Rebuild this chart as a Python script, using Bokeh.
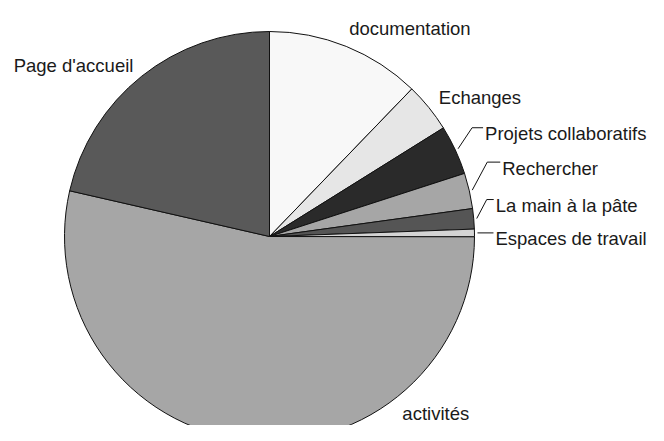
import math
from bokeh.plotting import figure
from bokeh.models import Range1d, ColumnDataSource
from bokeh.embed import file_html
from bokeh.resources import INLINE
from bokeh.core.properties import value

# ---- data ----
categories = ["documentation", "Echanges", "Projets collaboratifs", "Rechercher",
              "La main à la pâte", "Espaces de travail", "activités", "Page d'accueil"]
shares = [12.2, 3.9, 3.9, 2.8, 1.6, 0.6, 53.5, 21.4]

# ---- style ----
colors = ["#f8f8f8", "#e6e6e6", "#2a2a2a", "#a6a6a6", "#555555", "#d4d4d4", "#a6a6a6", "#595959"]
# label layout in screen pixels (dx right, dy down): (kind, dx, dy, align, horizontal segment)
layout = [
    ("plain", 3, -18, "left", 0),
    ("plain", 10, -10, "left", 0),
    ("leader", 14, -21, "left", 11),
    ("leader", 15, -28, "left", 13),
    ("leader", 10, -19, "left", 7),
    ("leader", 0, 0, "left", 16),
    ("plain", 156, -27, "left", 0),
    ("plain", -8.3, -10.7, "right", 0),
]

W, H = 648, 425
p = figure(width=W, height=H, x_range=Range1d(0, W), y_range=Range1d(0, H),
           output_backend="svg", toolbar_location=None, min_border=0,
           x_axis_type=None, y_axis_type=None)
p.grid.visible = False
p.outline_line_color = None
p.background_fill_color = "white"
p.border_fill_color = "white"

cx, cy, R = 269, 189, 205
total = sum(shares)
starts, ends = [], []
acc = 0.0
for v in shares:
    starts.append(math.pi / 2 - 2 * math.pi * acc / total)
    acc += v
    ends.append(math.pi / 2 - 2 * math.pi * acc / total)

src = ColumnDataSource(dict(start=starts, end=ends, color=colors, label=categories))
p.wedge(x=cx, y=cy, radius=R, start_angle="start", end_angle="end", direction="clock",
        fill_color="color", line_color="#111111", line_width=1, source=src)

tx, ty, ta, tt = [], [], [], []
lxs, lys = [], []
for lab, s, e, (kind, dx, dy, align, hl) in zip(categories, starts, ends, layout):
    th = (s + e) / 2
    if kind == "plain":
        ex, ey = cx + R * math.cos(th), cy + R * math.sin(th)
        tx.append(ex + dx); ty.append(ey - dy)
    else:
        sx, sy = cx + (R + 3) * math.cos(th), cy + (R + 3) * math.sin(th)
        bx, by = sx + dx, sy - dy
        lxs.append([sx, bx, bx + hl]); lys.append([sy, by, by])
        tx.append(bx + hl + 2); ty.append(by - 6)
    ta.append(align); tt.append(lab)

p.multi_line(xs=lxs, ys=lys, line_color="#111111", line_width=1)

tsrc = ColumnDataSource(dict(x=tx, y=ty, text=tt, align=ta))
p.text(x="x", y="y", text="text", text_align="align", text_baseline="alphabetic",
       text_font=value("Liberation Sans"), text_font_size="18.5px", text_color="#1a1a1a",
       source=tsrc)

open("out.html", "w").write(file_html(p, INLINE))
